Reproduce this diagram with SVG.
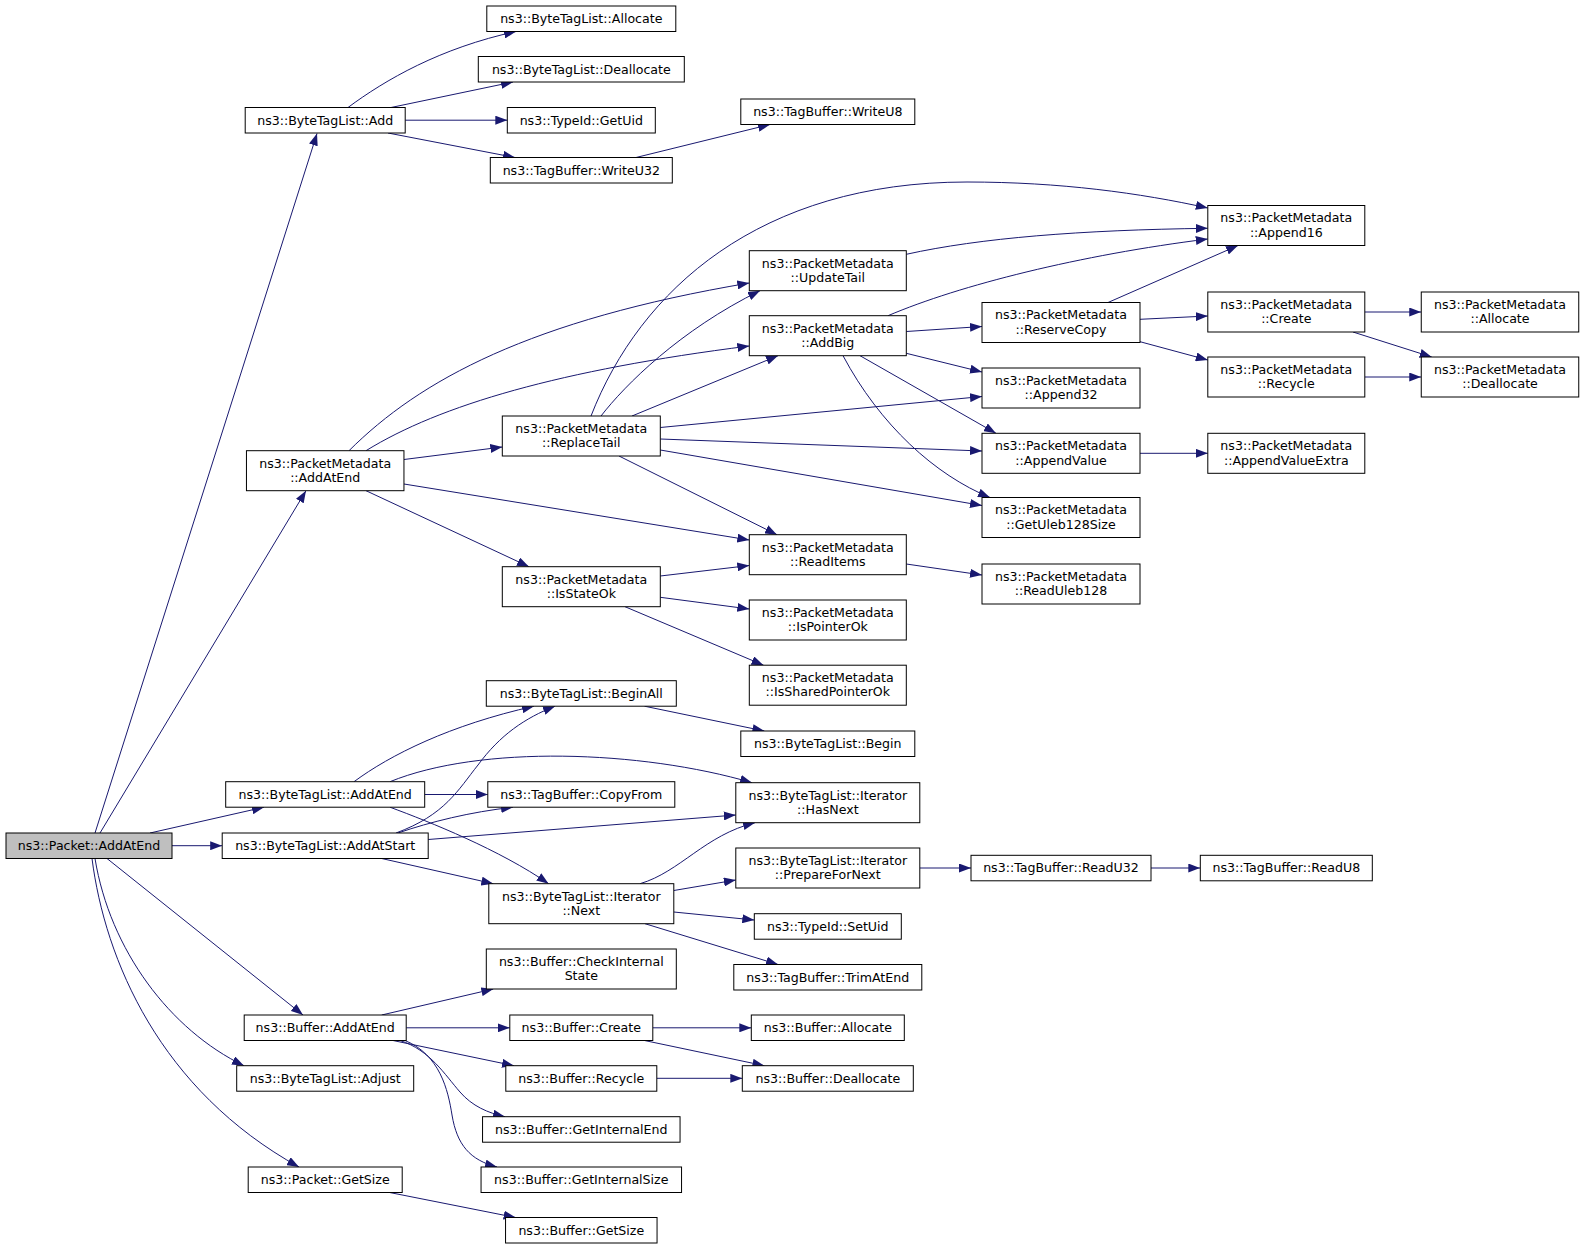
<svg xmlns="http://www.w3.org/2000/svg" width="1584" height="1249" viewBox="0 0 1584 1249">
<defs>
<marker id="a" markerWidth="12" markerHeight="9" refX="12" refY="4.5" orient="auto" markerUnits="userSpaceOnUse"><path d="M0,0 L12,4.5 L0,9 z" fill="#191970"/></marker>
<style>
.node rect{fill:#ffffff;stroke:#000000;stroke-width:1}
.root rect{fill:#bfbfbf}
.node text{font-family:"DejaVu Sans","Liberation Sans",sans-serif;font-size:12.6px;text-anchor:middle;fill:#000000}
#edges path{fill:none;stroke:#191970;stroke-width:1;marker-end:url(#a)}
</style>
</defs>
<rect x="0" y="0" width="1584" height="1249" fill="#ffffff"/>
<g id="edges">
<path d="M95,833 L317,133.5"/>
<path d="M100,833 L306,490.7"/>
<path d="M150,833 L264,807.2"/>
<path d="M172,845.7 L222.2,845.7"/>
<path d="M107,858.5 L303,1015"/>
<path d="M95,858.5 C110,950 170,1030 244,1065.7"/>
<path d="M92,858.5 C105,960 160,1090 299,1167"/>
<path d="M348,107.5 C385,80 440,48 516,31.5"/>
<path d="M391,107.5 L513,82"/>
<path d="M405.2,120.2 L507.3,120.2"/>
<path d="M388,133 L515,157.5"/>
<path d="M636,157.5 L770,124.5"/>
<path d="M349,450.7 C420,380 530,320 749.3,283"/>
<path d="M366,450.7 C440,405 560,370 749.3,346"/>
<path d="M404,459.5 L502.3,447"/>
<path d="M404,484 L749.3,540"/>
<path d="M366,490.7 L529,566.7"/>
<path d="M591,416 C640,290 760,182 967,182 C1060,182 1140,193 1207.8,208"/>
<path d="M601,416 C625,385 680,330 760,290.7"/>
<path d="M632,416 L778,355.7"/>
<path d="M660.3,427.5 L982,396.5"/>
<path d="M660.3,439 L982,451"/>
<path d="M660.3,450 L982,505.5"/>
<path d="M619,456 L777,534.7"/>
<path d="M888,315.7 C960,285 1080,255 1207.8,239"/>
<path d="M906.3,331.5 L982,326.5"/>
<path d="M906.3,353.3 L982,372"/>
<path d="M860,355.7 L996,433.3"/>
<path d="M843,355.7 C880,425 935,475 990,497.5"/>
<path d="M1108,302.5 L1238,245.5"/>
<path d="M1140,319.3 L1207.8,316"/>
<path d="M1140,341.7 L1207.8,360"/>
<path d="M1364.8,312 L1421.25,312"/>
<path d="M1353,332 L1431.7,357"/>
<path d="M1364.8,377 L1421.25,377"/>
<path d="M1140,453.3 L1207.8,453.3"/>
<path d="M906.3,254.3 C980,238 1080,230 1207.8,228.3"/>
<path d="M906.3,564 L982,575"/>
<path d="M660.3,576 L749.3,565.5"/>
<path d="M660.3,597.3 L749.3,609"/>
<path d="M625,606.7 L763.5,665.2"/>
<path d="M644.5,706.2 L764.4,731"/>
<path d="M354,781.7 C390,755 450,725 534,706.2"/>
<path d="M424.7,794.5 L487.8,794.5"/>
<path d="M390,781.7 C480,745 640,750 752,782.7"/>
<path d="M390,807.2 C430,822 500,850 548.6,883.7"/>
<path d="M396,833 C445,815 458,790 478,765 C500,735 525,718 555,706.2"/>
<path d="M398,833 C430,822 470,812 513,807.2"/>
<path d="M428.2,839.5 L735.8,815"/>
<path d="M381.7,858.5 L493.3,883.7"/>
<path d="M640,883.7 C680,872 705,835 755,822.7"/>
<path d="M673.8,890.5 L735.8,880"/>
<path d="M673.8,912 L754.3,920"/>
<path d="M645,923.7 L778,964.5"/>
<path d="M919.8,868 L971,868"/>
<path d="M1151,868 L1200.3,868"/>
<path d="M381.7,1015 L493.3,989"/>
<path d="M406.2,1027.8 L509.8,1027.8"/>
<path d="M393,1040.5 L514,1065.7"/>
<path d="M400,1040.5 C430,1050 445,1075 460,1092 C472,1106 488,1113 505,1116.7"/>
<path d="M405,1040.5 C440,1055 448,1090 452,1115 C457,1145 470,1160 497,1167"/>
<path d="M652.8,1027.8 L751.3,1027.8"/>
<path d="M644.5,1040.5 L764.4,1065.7"/>
<path d="M656.8,1078.3 L742.3,1078.3"/>
<path d="M389.7,1192.5 L515.6,1217.5"/>
</g>
<g id="n1" class="node root"><rect x="6" y="833" width="166" height="25.5"/><text x="89" y="850">ns3::Packet::AddAtEnd</text></g>
<g id="n2" class="node"><rect x="245.2" y="107.5" width="160" height="25.5"/><text x="325.2" y="124.5">ns3::ByteTagList::Add</text></g>
<g id="n3" class="node"><rect x="486.8" y="6" width="189" height="25.5"/><text x="581.3" y="23">ns3::ByteTagList::Allocate</text></g>
<g id="n4" class="node"><rect x="478.3" y="56.5" width="206" height="25.5"/><text x="581.3" y="73.5">ns3::ByteTagList::Deallocate</text></g>
<g id="n5" class="node"><rect x="507.3" y="107.5" width="148" height="25.5"/><text x="581.3" y="124.5">ns3::TypeId::GetUid</text></g>
<g id="n6" class="node"><rect x="490.3" y="157.5" width="182" height="25.5"/><text x="581.3" y="174.5">ns3::TagBuffer::WriteU32</text></g>
<g id="n7" class="node"><rect x="740.8" y="99" width="174" height="25.5"/><text x="827.8" y="116">ns3::TagBuffer::WriteU8</text></g>
<g id="n8" class="node"><rect x="1207.8" y="205.5" width="157" height="40"/><text x="1286.3" y="222.3">ns3::PacketMetadata</text><text x="1286.3" y="236.7">::Append16</text></g>
<g id="n9" class="node"><rect x="749.3" y="250.7" width="157" height="40"/><text x="827.8" y="267.5">ns3::PacketMetadata</text><text x="827.8" y="281.9">::UpdateTail</text></g>
<g id="n10" class="node"><rect x="749.3" y="315.7" width="157" height="40"/><text x="827.8" y="332.5">ns3::PacketMetadata</text><text x="827.8" y="346.9">::AddBig</text></g>
<g id="n11" class="node"><rect x="982" y="302.5" width="158" height="40"/><text x="1061" y="319.3">ns3::PacketMetadata</text><text x="1061" y="333.7">::ReserveCopy</text></g>
<g id="n12" class="node"><rect x="1207.8" y="292" width="157" height="40"/><text x="1286.3" y="308.8">ns3::PacketMetadata</text><text x="1286.3" y="323.2">::Create</text></g>
<g id="n13" class="node"><rect x="1421.25" y="292" width="157.5" height="40"/><text x="1500" y="308.8">ns3::PacketMetadata</text><text x="1500" y="323.2">::Allocate</text></g>
<g id="n14" class="node"><rect x="1207.8" y="357" width="157" height="40"/><text x="1286.3" y="373.8">ns3::PacketMetadata</text><text x="1286.3" y="388.2">::Recycle</text></g>
<g id="n15" class="node"><rect x="1421.25" y="357" width="157.5" height="40"/><text x="1500" y="373.8">ns3::PacketMetadata</text><text x="1500" y="388.2">::Deallocate</text></g>
<g id="n16" class="node"><rect x="982" y="368" width="158" height="40"/><text x="1061" y="384.8">ns3::PacketMetadata</text><text x="1061" y="399.2">::Append32</text></g>
<g id="n17" class="node"><rect x="982" y="433.3" width="158" height="40"/><text x="1061" y="450.1">ns3::PacketMetadata</text><text x="1061" y="464.5">::AppendValue</text></g>
<g id="n18" class="node"><rect x="1207.8" y="433.3" width="157" height="40"/><text x="1286.3" y="450.1">ns3::PacketMetadata</text><text x="1286.3" y="464.5">::AppendValueExtra</text></g>
<g id="n19" class="node"><rect x="982" y="497.5" width="158" height="40"/><text x="1061" y="514.3">ns3::PacketMetadata</text><text x="1061" y="528.7">::GetUleb128Size</text></g>
<g id="n20" class="node"><rect x="502.3" y="416" width="158" height="40"/><text x="581.3" y="432.8">ns3::PacketMetadata</text><text x="581.3" y="447.2">::ReplaceTail</text></g>
<g id="n21" class="node"><rect x="246.45" y="450.7" width="157.5" height="40"/><text x="325.2" y="467.5">ns3::PacketMetadata</text><text x="325.2" y="481.9">::AddAtEnd</text></g>
<g id="n22" class="node"><rect x="749.3" y="534.7" width="157" height="40"/><text x="827.8" y="551.5">ns3::PacketMetadata</text><text x="827.8" y="565.9">::ReadItems</text></g>
<g id="n23" class="node"><rect x="982" y="564" width="158" height="40"/><text x="1061" y="580.8">ns3::PacketMetadata</text><text x="1061" y="595.2">::ReadUleb128</text></g>
<g id="n24" class="node"><rect x="502.3" y="566.7" width="158" height="40"/><text x="581.3" y="583.5">ns3::PacketMetadata</text><text x="581.3" y="597.9">::IsStateOk</text></g>
<g id="n25" class="node"><rect x="749.3" y="600" width="157" height="40"/><text x="827.8" y="616.8">ns3::PacketMetadata</text><text x="827.8" y="631.2">::IsPointerOk</text></g>
<g id="n26" class="node"><rect x="749.3" y="665.2" width="157" height="40"/><text x="827.8" y="682">ns3::PacketMetadata</text><text x="827.8" y="696.4">::IsSharedPointerOk</text></g>
<g id="n27" class="node"><rect x="486.3" y="680.7" width="190" height="25.5"/><text x="581.3" y="697.7">ns3::ByteTagList::BeginAll</text></g>
<g id="n28" class="node"><rect x="740.8" y="731" width="174" height="25.5"/><text x="827.8" y="748">ns3::ByteTagList::Begin</text></g>
<g id="n29" class="node"><rect x="225.7" y="781.7" width="199" height="25.5"/><text x="325.2" y="798.7">ns3::ByteTagList::AddAtEnd</text></g>
<g id="n30" class="node"><rect x="487.8" y="781.7" width="187" height="25.5"/><text x="581.3" y="798.7">ns3::TagBuffer::CopyFrom</text></g>
<g id="n31" class="node"><rect x="735.8" y="782.7" width="184" height="40"/><text x="827.8" y="799.5">ns3::ByteTagList::Iterator</text><text x="827.8" y="813.9">::HasNext</text></g>
<g id="n32" class="node"><rect x="222.2" y="833" width="206" height="25.5"/><text x="325.2" y="850">ns3::ByteTagList::AddAtStart</text></g>
<g id="n33" class="node"><rect x="488.8" y="883.7" width="185" height="40"/><text x="581.3" y="900.5">ns3::ByteTagList::Iterator</text><text x="581.3" y="914.9">::Next</text></g>
<g id="n34" class="node"><rect x="735.8" y="848" width="184" height="40"/><text x="827.8" y="864.8">ns3::ByteTagList::Iterator</text><text x="827.8" y="879.2">::PrepareForNext</text></g>
<g id="n35" class="node"><rect x="971" y="855.3" width="180" height="25.5"/><text x="1061" y="872.3">ns3::TagBuffer::ReadU32</text></g>
<g id="n36" class="node"><rect x="1200.3" y="855.3" width="172" height="25.5"/><text x="1286.3" y="872.3">ns3::TagBuffer::ReadU8</text></g>
<g id="n37" class="node"><rect x="754.3" y="913.7" width="147" height="25.5"/><text x="827.8" y="930.7">ns3::TypeId::SetUid</text></g>
<g id="n38" class="node"><rect x="733.8" y="964.5" width="188" height="25.5"/><text x="827.8" y="981.5">ns3::TagBuffer::TrimAtEnd</text></g>
<g id="n39" class="node"><rect x="486.3" y="949" width="190" height="40"/><text x="581.3" y="965.8">ns3::Buffer::CheckInternal</text><text x="581.3" y="980.2">State</text></g>
<g id="n40" class="node"><rect x="244.2" y="1015" width="162" height="25.5"/><text x="325.2" y="1032">ns3::Buffer::AddAtEnd</text></g>
<g id="n41" class="node"><rect x="509.8" y="1015" width="143" height="25.5"/><text x="581.3" y="1032">ns3::Buffer::Create</text></g>
<g id="n42" class="node"><rect x="751.3" y="1015" width="153" height="25.5"/><text x="827.8" y="1032">ns3::Buffer::Allocate</text></g>
<g id="n43" class="node"><rect x="505.8" y="1065.7" width="151" height="25.5"/><text x="581.3" y="1082.7">ns3::Buffer::Recycle</text></g>
<g id="n44" class="node"><rect x="742.3" y="1065.7" width="171" height="25.5"/><text x="827.8" y="1082.7">ns3::Buffer::Deallocate</text></g>
<g id="n45" class="node"><rect x="236.7" y="1065.7" width="177" height="25.5"/><text x="325.2" y="1082.7">ns3::ByteTagList::Adjust</text></g>
<g id="n46" class="node"><rect x="482.55" y="1116.7" width="197.5" height="25.5"/><text x="581.3" y="1133.7">ns3::Buffer::GetInternalEnd</text></g>
<g id="n47" class="node"><rect x="481.05" y="1167" width="200.5" height="25.5"/><text x="581.3" y="1184">ns3::Buffer::GetInternalSize</text></g>
<g id="n48" class="node"><rect x="248.2" y="1167" width="154" height="25.5"/><text x="325.2" y="1184">ns3::Packet::GetSize</text></g>
<g id="n49" class="node"><rect x="505.55" y="1217.5" width="151.5" height="25.5"/><text x="581.3" y="1234.5">ns3::Buffer::GetSize</text></g>
</svg>
